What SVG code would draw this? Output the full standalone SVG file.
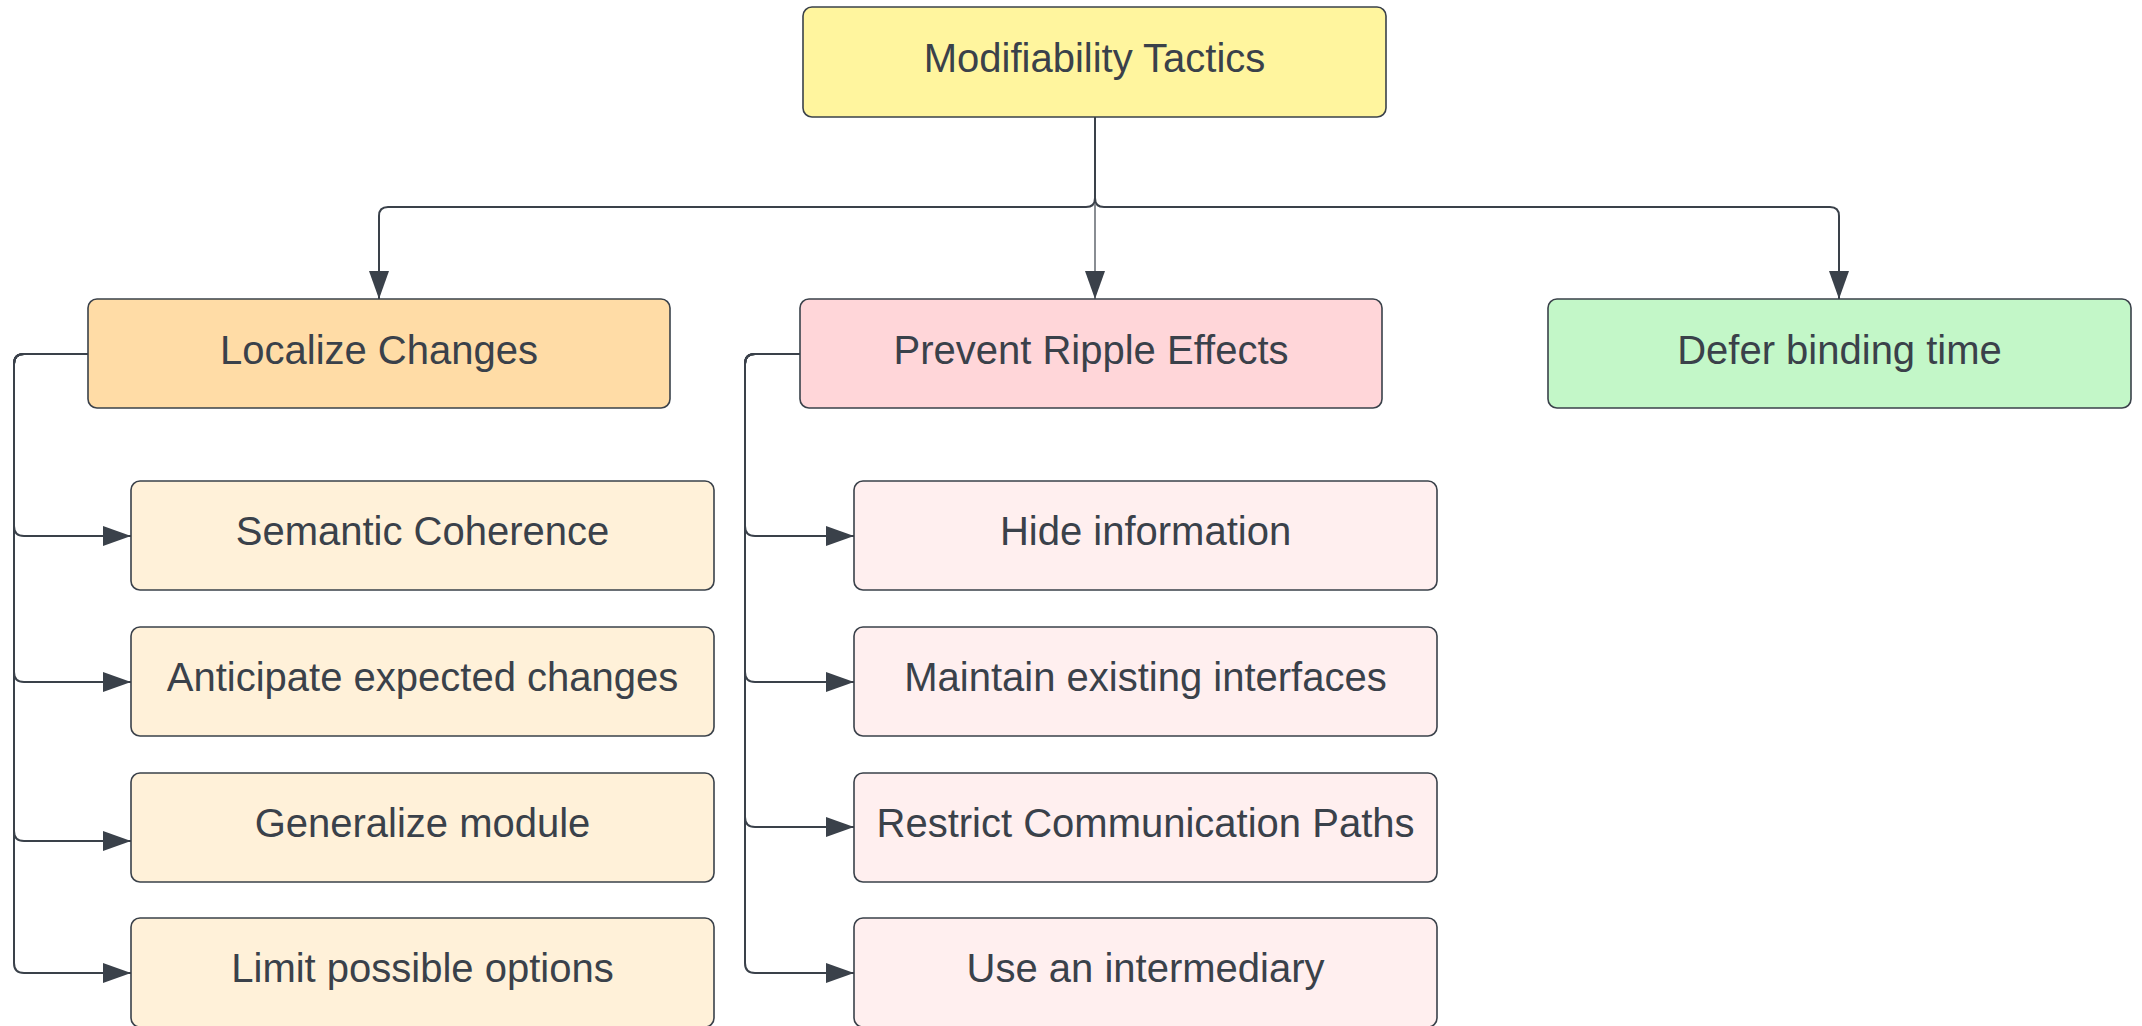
<svg xmlns="http://www.w3.org/2000/svg" width="2142" height="1026" viewBox="0 0 2142 1026">
<defs>
<marker id="arr" markerUnits="userSpaceOnUse" markerWidth="30" markerHeight="22" refX="28" refY="10" orient="auto">
<path d="M0,0 L28,10 L0,20 Z" fill="#3a414a"/>
</marker>
<style>
.box{stroke:#3a414a;stroke-width:1.6}
.lbl{font-family:"Liberation Sans",Arial,sans-serif;font-size:40px;fill:#3a414a;text-anchor:middle}
.c{fill:none;stroke:#3a414a;stroke-width:2}
.thin{stroke-width:1.2}
</style>
</defs>
<rect width="2142" height="1026" fill="#ffffff"/>
<g id="connectors">
<path class="c" d="M1095 116 V198 Q1095 207 1086 207 H388 Q379 207 379 216 V299" marker-end="url(#arr)"/>
<path class="c thin" d="M1095 116 V299" marker-end="url(#arr)"/>
<path class="c" d="M1095 116 V198 Q1095 207 1104 207 H1830 Q1839 207 1839 216 V299" marker-end="url(#arr)"/>
<path class="c" d="M88 354 H24 Q14 354 14 364 V526 Q14 536 24 536 H131" marker-end="url(#arr)"/>
<path class="c" d="M88 354 H24 Q14 354 14 364 V672 Q14 682 24 682 H131" marker-end="url(#arr)"/>
<path class="c" d="M88 354 H24 Q14 354 14 364 V831 Q14 841 24 841 H131" marker-end="url(#arr)"/>
<path class="c" d="M88 354 H24 Q14 354 14 364 V963 Q14 973 24 973 H131" marker-end="url(#arr)"/>
<path class="c" d="M800 354 H755 Q745 354 745 364 V526 Q745 536 755 536 H854" marker-end="url(#arr)"/>
<path class="c" d="M800 354 H755 Q745 354 745 364 V672 Q745 682 755 682 H854" marker-end="url(#arr)"/>
<path class="c" d="M800 354 H755 Q745 354 745 364 V817 Q745 827 755 827 H854" marker-end="url(#arr)"/>
<path class="c" d="M800 354 H755 Q745 354 745 364 V963 Q745 973 755 973 H854" marker-end="url(#arr)"/>
</g>
<g id="modifiability-tactics">
<rect class="box" x="803" y="7" width="583" height="110" rx="9" fill="#fff59e"/>
<text class="lbl" x="1094.5" y="72">Modifiability Tactics</text>
</g>
<g id="localize-changes">
<rect class="box" x="88" y="299" width="582" height="109" rx="9" fill="#ffdca6"/>
<text class="lbl" x="379" y="364">Localize Changes</text>
</g>
<g id="prevent-ripple-effects">
<rect class="box" x="800" y="299" width="582" height="109" rx="9" fill="#ffd6d9"/>
<text class="lbl" x="1091" y="364">Prevent Ripple Effects</text>
</g>
<g id="defer-binding-time">
<rect class="box" x="1548" y="299" width="583" height="109" rx="9" fill="#c3f7c8"/>
<text class="lbl" x="1839.5" y="364">Defer binding time</text>
</g>
<g id="semantic-coherence">
<rect class="box" x="131" y="481" width="583" height="109" rx="9" fill="#fff1d9"/>
<text class="lbl" x="422.5" y="545">Semantic Coherence</text>
</g>
<g id="anticipate-expected-changes">
<rect class="box" x="131" y="627" width="583" height="109" rx="9" fill="#fff1d9"/>
<text class="lbl" x="422.5" y="691">Anticipate expected changes</text>
</g>
<g id="generalize-module">
<rect class="box" x="131" y="773" width="583" height="109" rx="9" fill="#fff1d9"/>
<text class="lbl" x="422.5" y="837">Generalize module</text>
</g>
<g id="limit-possible-options">
<rect class="box" x="131" y="918" width="583" height="109" rx="9" fill="#fff1d9"/>
<text class="lbl" x="422.5" y="982">Limit possible options</text>
</g>
<g id="hide-information">
<rect class="box" x="854" y="481" width="583" height="109" rx="9" fill="#ffefef"/>
<text class="lbl" x="1145.5" y="545">Hide information</text>
</g>
<g id="maintain-existing-interfaces">
<rect class="box" x="854" y="627" width="583" height="109" rx="9" fill="#ffefef"/>
<text class="lbl" x="1145.5" y="691">Maintain existing interfaces</text>
</g>
<g id="restrict-communication-paths">
<rect class="box" x="854" y="773" width="583" height="109" rx="9" fill="#ffefef"/>
<text class="lbl" x="1145.5" y="837">Restrict Communication Paths</text>
</g>
<g id="use-an-intermediary">
<rect class="box" x="854" y="918" width="583" height="109" rx="9" fill="#ffefef"/>
<text class="lbl" x="1145.5" y="982">Use an intermediary</text>
</g>
</svg>
